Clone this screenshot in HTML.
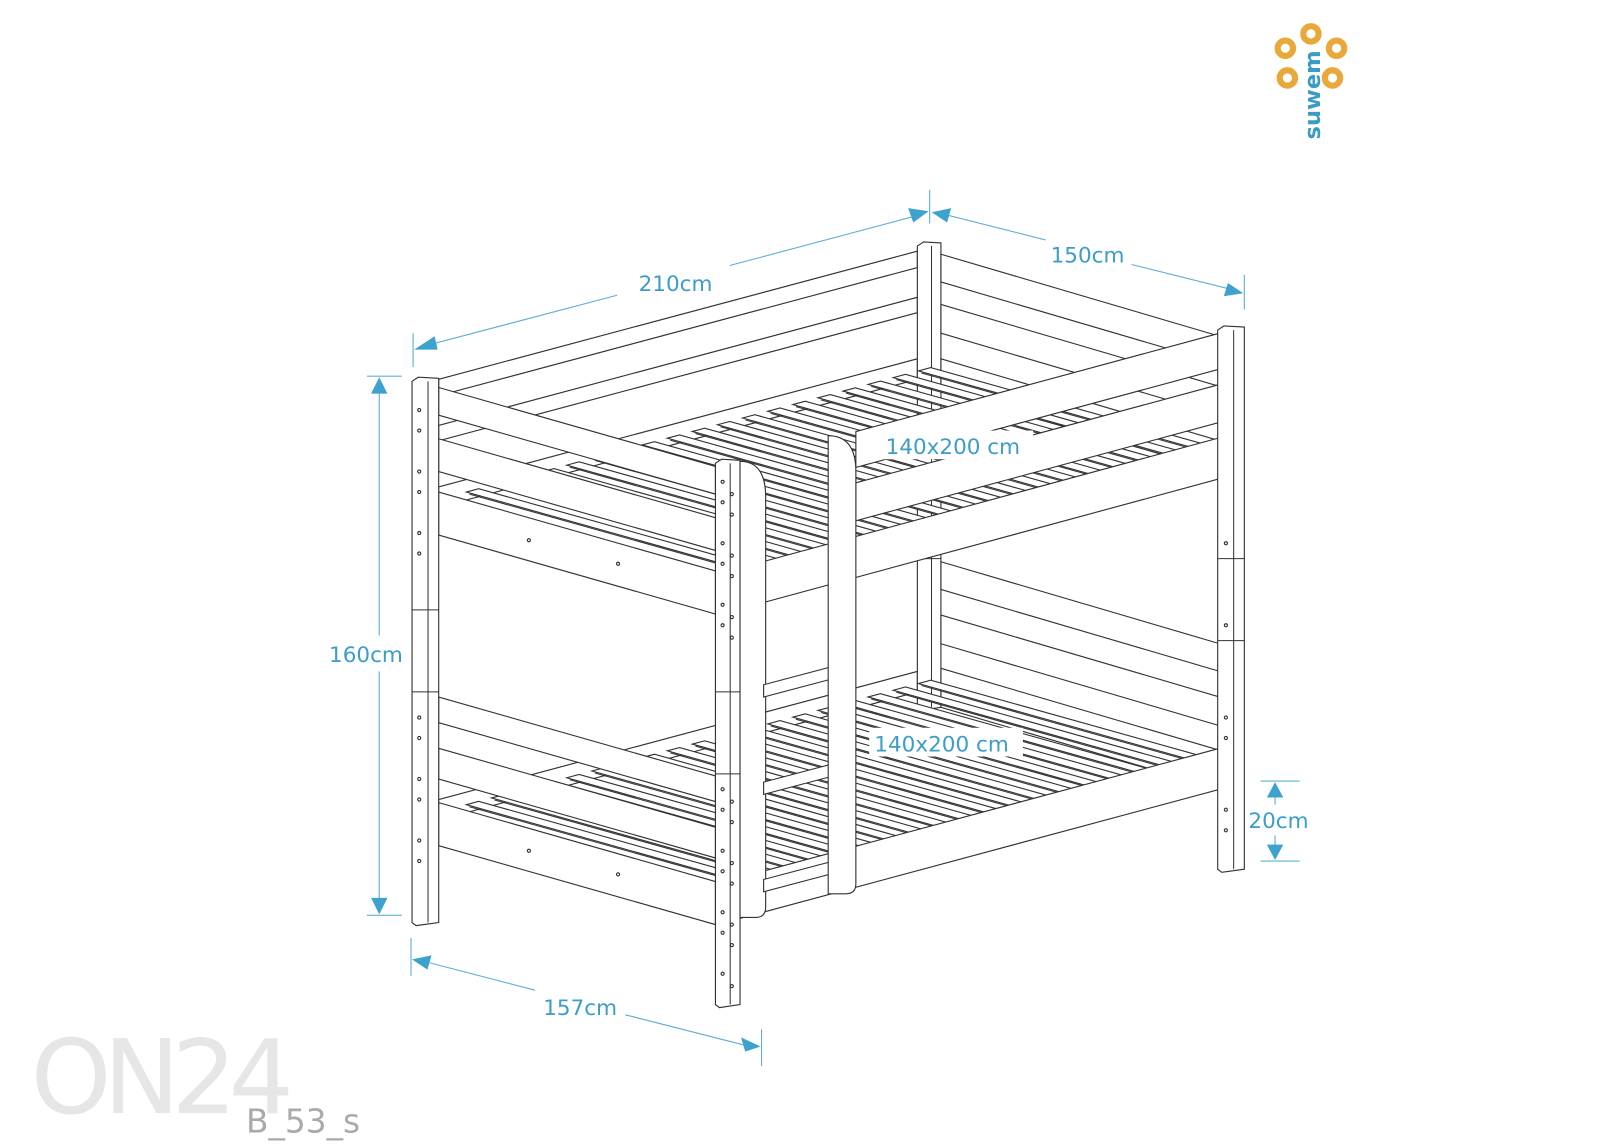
<!DOCTYPE html>
<html><head><meta charset="utf-8"><style>
html,body{margin:0;padding:0;background:#fff;width:1600px;height:1145px;overflow:hidden}
svg{display:block}
.l{fill:#fff;stroke:#333;stroke-width:1.1}
.t{font-family:"DejaVu Sans","Liberation Sans",sans-serif;fill:#3d9dc8;font-size:21px}
.d{stroke:#5fb0d4;stroke-width:1.1;fill:none}
.a{fill:#3ea2cf}
</style></head><body>
<svg id="s" width="1600" height="1145" viewBox="0 0 1561 1117" xmlns="http://www.w3.org/2000/svg">
<text x="30" y="1086" style="font-family:'DejaVu Sans',sans-serif;font-size:100px;fill:#e6e6e6;letter-spacing:-8px">ON24</text>
<text x="240" y="1105" style="font-family:'DejaVu Sans',sans-serif;font-size:32px;fill:#aaa">B_53_s</text>
<g id="g"></g>
<!-- logo -->
<g fill="none" stroke="#e8a93a" stroke-width="6">
<circle cx="1254" cy="47" r="7.5"/><circle cx="1279" cy="33" r="7.5"/><circle cx="1304" cy="47" r="7.5"/>
<circle cx="1256" cy="76" r="7.5"/><circle cx="1300" cy="76" r="7.5"/></g>
<text transform="translate(1288,136) rotate(-90)" class="t" style="font-size:22px;font-weight:bold;fill:#3a9cc6">suwem</text>
<!-- dimensions -->
<g class="d">
<line x1="403" y1="325" x2="403" y2="358"/><line x1="907" y1="185" x2="907" y2="218"/>
<line x1="420" y1="336" x2="602" y2="288"/><line x1="712" y1="259" x2="892" y2="211"/>
<line x1="1214" y1="268" x2="1214" y2="302"/>
<line x1="925" y1="210" x2="1020" y2="234"/><line x1="1104" y1="258" x2="1200" y2="282"/>
<line x1="358" y1="367" x2="392" y2="367"/><line x1="358" y1="893" x2="392" y2="893"/>
<line x1="370" y1="380" x2="370" y2="620"/><line x1="370" y1="655" x2="370" y2="880"/>
<line x1="1230" y1="762" x2="1268" y2="762"/><line x1="1230" y1="840" x2="1268" y2="840"/>
<line x1="1244" y1="775" x2="1244" y2="785"/><line x1="1244" y1="815" x2="1244" y2="828"/>
<line x1="401" y1="915" x2="401" y2="952"/><line x1="743" y1="1004" x2="743" y2="1040"/>
<line x1="418" y1="939" x2="522" y2="966"/><line x1="610" y1="990" x2="728" y2="1020"/>
</g>
<g class="a">
<polygon points="404,341 424,328 427,341"/><polygon points="906,206 886,203 891,217"/>
<polygon points="909,207 928,203 924,217"/><polygon points="1213,286 1198,276 1194,289"/>
<polygon points="370,368 362,384 378,384"/><polygon points="370,892 362,876 378,876"/>
<polygon points="1244,763 1236,778 1252,778"/><polygon points="1244,839 1236,824 1252,824"/>
<polygon points="402,936 421,932 417,946"/><polygon points="742,1021 723,1012 727,1026"/>
</g>
<text class="t" x="623" y="284">210cm</text>
<text class="t" x="1025" y="256">150cm</text>
<text class="t" x="321" y="646">160cm</text>
<text class="t" x="1218" y="808">20cm</text>
<text class="t" x="530" y="990">157cm</text>
<rect x="858" y="420" width="150" height="28" fill="#fff"/>
<text class="t" x="864" y="443">140x200 cm</text>
<rect x="848" y="710" width="150" height="28" fill="#fff"/>
<text class="t" x="853" y="733">140x200 cm</text>
</svg>
<script>
var g=document.getElementById('g'),NS='http://www.w3.org/2000/svg';
function P(pts,c){var e=document.createElementNS(NS,'polygon');e.setAttribute('points',pts.map(function(p){return p.join(',')}).join(' '));e.setAttribute('class',c||'l');g.appendChild(e);return e;}
function B(x1,yt,yb,x2,dy){P([[x1,yt],[x2,yt+dy],[x2,yb+dy],[x1,yb]]);}
function L(x1,y1,x2,y2){var e=document.createElementNS(NS,'line');e.setAttribute('x1',x1);e.setAttribute('y1',y1);e.setAttribute('x2',x2);e.setAttribute('y2',y2);e.setAttribute('stroke','#333');e.setAttribute('stroke-width','1');g.appendChild(e);}
function post(x1,x2,yt,yb,joints){P([[x1,yt+4],[x1+6,yt],[x2,yt+1],[x2,yb],[x1+4,yb+3],[x1,yb]]);L(x1+(x2-x1)*0.6,yt+4,x1+(x2-x1)*0.6,yb);(joints||[]).forEach(function(j){L(x1,j,x2,j);});}
B(428,370,386,895,-125);B(428,415,430,895,-125);B(428,475,495,895,-125);
B(428,780,800,895,-125);
post(895,918,236,690,[545]);
B(918,248,275,1190,80);B(918,297,325,1190,80);B(918,350,380,1190,80);
B(918,548,575,1190,80);B(918,600,628,1190,80);B(918,652,690,1190,80);
function slats(oy){for(var i=0;i<19;i++){var x=455+i*24.5,y=480+oy-i*24.5*0.268;var L0=285;P([[x,y],[x+12,y-3.2],[x+12+L0,y-3.2+L0*0.28],[x+L0,y+L0*0.28]]);L(x+3,y+2,x+3+L0,y+2+L0*0.28);}}
slats(0);slats(305);
B(428,378,405,698,77);B(428,428,460,698,77);B(428,480,522,698,77);
B(428,680,705,698,77);B(428,730,760,698,77);B(428,783,825,698,77);
B(835,421,456,1190,-96);B(835,471,508,1190,-96);B(722,554,594,1190,-127);
B(722,856,896,1190,-126);
post(402,428,368,900,[595,675]);
post(1188,1214,318,848,[545,625]);
post(698,722,448,980,[675,755]);
function rail(x1,x2,yt,yb){var e=document.createElementNS(NS,'path');e.setAttribute('d','M'+x1+','+(yb)+' L'+x1+','+yt+' Q'+x2+','+yt+' '+x2+','+(yt+35)+' L'+x2+','+(yb-10)+' Q'+x2+','+yb+' '+(x2-10)+','+yb+' Z');e.setAttribute('class','l');g.appendChild(e);}
rail(722,747,450,895);
[[668],[763],[858]].forEach(function(r){var y=r[0];P([[745,y],[828,y-22],[828,y-10],[745,y+12]]);});
rail(808,835,425,872);
function hole(x,y){var c=document.createElementNS(NS,'circle');c.setAttribute('cx',x);c.setAttribute('cy',y);c.setAttribute('r',1.5);c.setAttribute('class','l');g.appendChild(c);}
[400,420,460,480,520,540,700,720,760,780,820,840].forEach(function(y){hole(409,y);});
[470,490,530,550,590,610,770,790,830,850,890,910,950].forEach(function(y){hole(705,y);hole(714,y+12);});
[530,610,700,720,790,810].forEach(function(y){hole(1196,y);});
hole(516,527);hole(603,550);hole(516,830);hole(603,853);
</script>
</body></html>
